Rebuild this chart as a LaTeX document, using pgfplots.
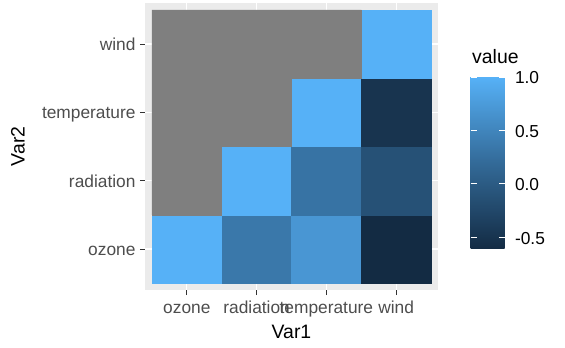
\documentclass[border=0pt]{standalone}
\usepackage{pgfplots}
\pgfplotsset{compat=1.18}
\usepackage{fontspec}
\setmainfont{Liberation Sans}
\definecolor{panelbg}{HTML}{EBEBEB}
\definecolor{nagrey}{HTML}{7F7F7F}
\definecolor{ticklab}{HTML}{4D4D4D}
\definecolor{tickcol}{HTML}{333333}
\begin{document}
\begin{tikzpicture}
\begin{axis}[
  scale only axis,
  width=293bp, height=287bp,
  at={(0,0)}, anchor=south west,
  xmin=-0.6, xmax=3.6, ymin=-0.6, ymax=3.6,
  xtick={0,1,2,3}, ytick={0,1,2,3},
  xticklabels={ozone,radiation,temperature,wind},
  yticklabels={ozone,radiation,temperature,wind},
  xtick pos=bottom, ytick pos=left,
  tick align=outside,
  major tick length=5bp,
  tick style={color=tickcol, line width=1bp},
  axis line style={draw=none},
  axis background/.style={fill=panelbg},
  grid=major,
  major grid style={white, line width=1.1bp},
  typeset ticklabels with strut,
  ticklabel style={font=\fontsize{17.4}{20}\selectfont, text=ticklab},
  xticklabel style={yshift=-1bp},
  yticklabel style={xshift=-1bp, yshift=-2.5bp},
  xlabel={Var1}, ylabel={Var2},
  every axis x label/.style={at={(axis description cs:0.5,-0.1464)}, anchor=center, font=\fontsize{19.5}{23}\selectfont},
  every axis y label/.style={at={(axis description cs:-0.4334,0.5)}, anchor=center, rotate=90, font=\fontsize{19.5}{23}\selectfont},
  colormap={gg}{rgb255=(19,43,67) rgb255=(51,106,152) rgb255=(86,177,247)},
  point meta min=-0.612, point meta max=1,
  colorbar,
  colorbar/width=34bp,
  colorbar style={
    scale only axis,
    anchor=south west,
    at={(parent axis.south east)},
    xshift=24bp, yshift=41bp,
    width=34bp, height=172bp,
    ytick={-0.5,0,0.5,1},
    yticklabels={-0.5,0.0,0.5,1.0},
    ytick pos=both, yticklabel pos=right,
    tick align=inside,
    major tick length=6bp,
    tick style={color=white, line width=0.8bp},
    axis on top,
    axis line style={draw=none},
    yticklabel style={font=\fontsize{17.4}{20}\selectfont, text=black, xshift=7bp, yshift=-1bp},
  },
]
\addplot[matrix plot*, mesh/cols=4, point meta=explicit] table[meta=c] {
x y c
0 0 1
1 0 0.348
2 0 0.699
3 0 -0.612
0 1 0.348
1 1 1
2 1 0.294
3 1 -0.127
0 2 0.699
1 2 0.294
2 2 1
3 2 -0.497
0 3 -0.612
1 3 -0.127
2 3 -0.497
3 3 1
};
\addplot[fill=nagrey, draw=nagrey, line width=0.6bp] coordinates {(-0.5,0.5) (-0.5,3.5) (2.5,3.5) (2.5,2.5) (1.5,2.5) (1.5,1.5) (0.5,1.5) (0.5,0.5)} -- cycle;
\end{axis}
\node[anchor=west, font=\fontsize{19.5}{23}\selectfont, inner sep=0pt] at (327bp,233bp) {value};
\pgfresetboundingbox
\useasboundingbox (-145bp,-58bp) rectangle (420bp,290bp);
\end{tikzpicture}
\end{document}
